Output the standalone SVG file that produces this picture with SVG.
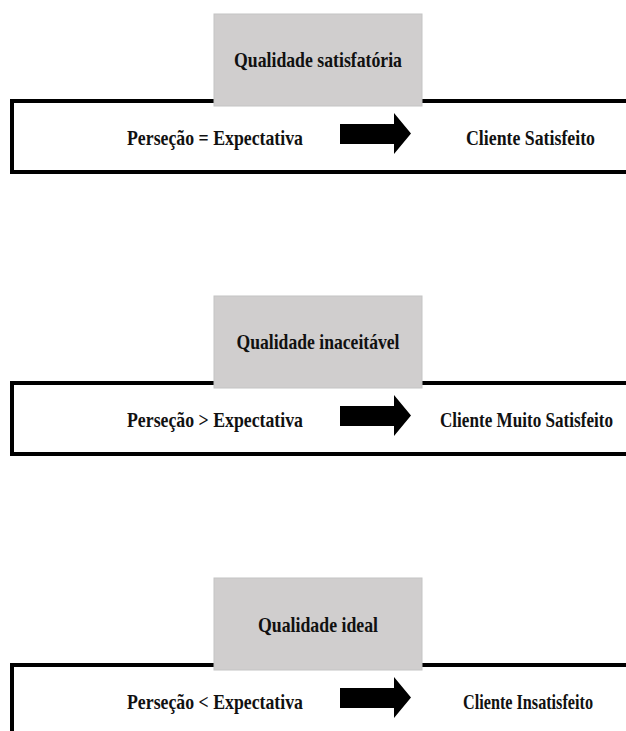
<svg xmlns="http://www.w3.org/2000/svg" width="626" height="731" viewBox="0 0 626 731">
  <style>
    .frame { fill: none; stroke: #000; stroke-width: 4; }
    .title-box { fill: #d0cece; stroke: #c4c4c4; stroke-width: 1; }
    .t { font-family: "Liberation Serif", "Times New Roman", serif; font-weight: bold; font-size: 21px; fill: #111; }
    .arrow { fill: #000; }
  </style>
  <defs>
    <polygon id="bigArrow" class="arrow" points="340,124 394,124 394,113 411,133.5 394,154 394,144 340,144"/>
  </defs>
  <rect width="626" height="731" fill="#fff"/>

  <!-- Panel 1 -->
  <g id="panel1">
    <path class="frame" d="M630,101 H12 V172 H630"/>
  </g>
  <g id="title1">
    <rect class="title-box" x="214" y="14" width="208" height="92"/>
    <text class="t" x="318" y="67" text-anchor="middle" textLength="168" lengthAdjust="spacingAndGlyphs">Qualidade satisfatória</text>
  </g>
  <g id="left1">
    <text class="t" x="127" y="145" textLength="176" lengthAdjust="spacingAndGlyphs">Perseção = Expectativa</text>
  </g>
  <g id="right1">
    <text class="t" x="466" y="145" textLength="129" lengthAdjust="spacingAndGlyphs">Cliente Satisfeito</text>
  </g>

  <!-- Panel 2 -->
  <g id="panel2">
    <path class="frame" d="M630,383 H12 V454 H630"/>
  </g>
  <g id="title2">
    <rect class="title-box" x="214" y="296" width="208" height="92"/>
    <text class="t" x="318" y="349" text-anchor="middle" textLength="163" lengthAdjust="spacingAndGlyphs">Qualidade inaceitável</text>
  </g>
  <g id="left2">
    <text class="t" x="127" y="427" textLength="176" lengthAdjust="spacingAndGlyphs">Perseção &gt; Expectativa</text>
  </g>
  <g id="right2">
    <text class="t" x="440" y="427" textLength="173" lengthAdjust="spacingAndGlyphs">Cliente Muito Satisfeito</text>
  </g>

  <!-- Panel 3 -->
  <g id="panel3">
    <path class="frame" d="M630,665 H12 V740"/>
  </g>
  <g id="title3">
    <rect class="title-box" x="214" y="578" width="208" height="92"/>
    <text class="t" x="318" y="632" text-anchor="middle" textLength="120" lengthAdjust="spacingAndGlyphs">Qualidade ideal</text>
  </g>
  <g id="left3">
    <text class="t" x="127" y="709" textLength="176" lengthAdjust="spacingAndGlyphs">Perseção &lt; Expectativa</text>
  </g>
  <g id="right3">
    <text class="t" x="463" y="709" textLength="130" lengthAdjust="spacingAndGlyphs">Cliente Insatisfeito</text>
  </g>

  <!-- Connectors -->
  <g id="connectors">
    <use href="#bigArrow"/>
    <use href="#bigArrow" transform="translate(0,282)"/>
    <use href="#bigArrow" transform="translate(0,564)"/>
  </g>
</svg>
